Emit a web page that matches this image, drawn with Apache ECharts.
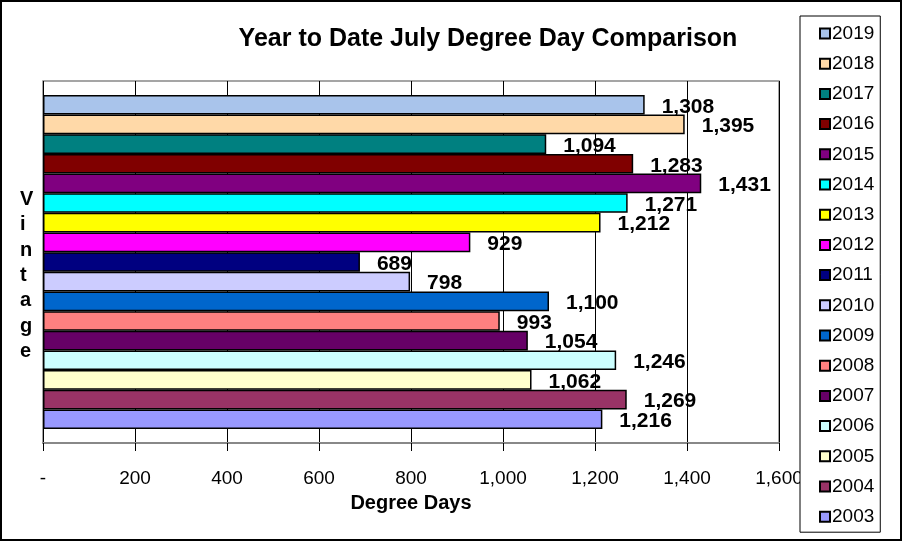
<!DOCTYPE html>
<html style="height: 100%">
    <head>
        <meta charset="utf-8">
        <script src="https://cdn.jsdelivr.net/npm/echarts@6/dist/echarts.min.js"></script>
    </head>
    <body style="height: 100%; margin: 0">
        <div id="container" style="width: 902px; height: 541px"></div>
    </body>
</html>
<script>
    // top to bottom, as in the legend
    var years = ['2019', '2018', '2017', '2016', '2015', '2014', '2013', '2012', '2011',
                 '2010', '2009', '2008', '2007', '2006', '2005', '2004', '2003'];
    var degreeDays = [1308, 1395, 1094, 1283, 1431, 1271, 1212, 929, 689,
                      798, 1100, 993, 1054, 1246, 1062, 1269, 1216];
    var barColors = ['#A9C4EB', '#FFD9A8', '#008080', '#800000', '#800080', '#00FFFF', '#FFFF00',
                     '#FF00FF', '#000080', '#CCCCFF', '#0066CC', '#FF8080', '#660066', '#CCFFFF',
                     '#FFFFCC', '#993366', '#9999FF'];
    var xTicks = [0, 200, 400, 600, 800, 1000, 1200, 1400, 1600];

    var font = 'Arial, "Liberation Sans", sans-serif';
    var dom = document.getElementById("container");
    var myChart = echarts.init(dom);
    var option;

    var series = [];
    for (var i = 0; i < years.length; i++) {
        series.push({
            name: years[i],
            type: 'bar',
            barGap: '0%',
            barCategoryGap: '7.7%',
            data: [degreeDays[i]],
            itemStyle: {
                color: barColors[i],
                borderColor: '#000',
                borderWidth: 1.5
            },
            label: {
                show: true,
                position: 'right',
                distance: 17,
                offset: [0, 2],
                fontFamily: font,
                fontSize: 21,
                fontWeight: 'bold',
                color: '#000',
                formatter: function (p) {
                    return p.value.toLocaleString('en-US');
                }
            }
        });
    }

    option = {
        animation: false,
        backgroundColor: '#fff',
        title: {
            text: 'Year to Date July Degree Day Comparison',
            left: 483,
            top: 22,
            textAlign: 'center',
            textStyle: { fontFamily: font, fontSize: 25, fontWeight: 'bold', color: '#000' }
        },
        legend: {
            orient: 'vertical',
            left: 800,
            top: 16,
            width: 93,
            height: 512,
            padding: [8, 6, 6, 19],
            backgroundColor: '#fff',
            borderColor: '#000',
            borderWidth: 1,
            itemWidth: 10,
            itemHeight: 10,
            itemGap: 11.2,
            icon: 'rect',
            data: years,
            textStyle: { fontFamily: font, fontSize: 19, color: '#000', padding: [0, 0, 0, -3] }
        },
        grid: {
            left: 43,
            right: 123,
            top: 81,
            bottom: 98,
            show: true,
            borderColor: '#888',
            borderWidth: 1.5,
            backgroundColor: '#fff'
        },
        xAxis: {
            type: 'value',
            min: xTicks[0],
            max: xTicks[xTicks.length - 1],
            interval: 200,
            name: 'Degree Days',
            nameLocation: 'middle',
            nameGap: 50,
            nameTextStyle: { fontFamily: font, fontSize: 20, fontWeight: 'bold', color: '#000' },
            axisLine: { show: true, lineStyle: { color: '#888', width: 2 } },
            axisTick: { show: true, length: 8, lineStyle: { color: '#000' } },
            splitLine: { show: true, lineStyle: { color: '#000', width: 1 } },
            axisLabel: {
                fontFamily: font,
                fontSize: 19,
                color: '#000',
                margin: 26,
                formatter: function (v) {
                    return v === 0 ? '-' : v.toLocaleString('en-US');
                }
            }
        },
        yAxis: {
            type: 'category',
            data: ['YTD'],
            axisLine: { show: false },
            axisTick: { show: false },
            axisLabel: { show: false },
            splitLine: { show: false }
        },
        graphic: [
            {
                type: 'text',
                left: 20,
                top: 187,
                style: {
                    text: 'V\ni\nn\nt\na\ng\ne',
                    fontFamily: font,
                    fontSize: 20,
                    fontWeight: 'bold',
                    lineHeight: 25.3,
                    align: 'center',
                    fill: '#000'
                }
            },
            {
                type: 'rect',
                shape: { x: 1, y: 1, width: 900, height: 539 },
                style: { fill: 'none', stroke: '#000', lineWidth: 2 },
                z: 100
            }
        ],
        series: series
    };

    if (option && typeof option === 'object') {
        myChart.setOption(option);
    }
</script>
